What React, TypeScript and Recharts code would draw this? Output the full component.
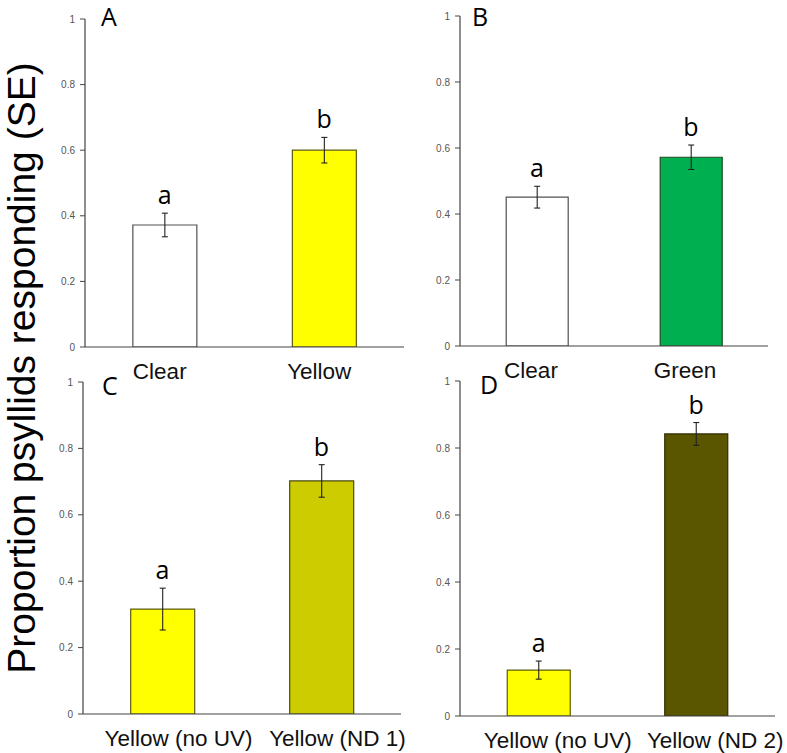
import React from 'react';
import { BarChart, Bar, XAxis, YAxis, ErrorBar, Cell, ReferenceDot } from 'recharts';

// ---- data ----
const categoriesA = ['Clear', 'Yellow'];
const valuesA = [0.372, 0.6];
const seA = [0.036, 0.039];
const lettersA = ['a', 'b'];

const categoriesB = ['Clear', 'Green'];
const valuesB = [0.451, 0.572];
const seB = [0.033, 0.037];
const lettersB = ['a', 'b'];

const categoriesC = ['Yellow (no UV)', 'Yellow (ND 1)'];
const valuesC = [0.316, 0.702];
const seC = [0.063, 0.049];
const lettersC = ['a', 'b'];

const categoriesD = ['Yellow (no UV)', 'Yellow (ND 2)'];
const valuesD = [0.137, 0.842];
const seD = [0.027, 0.034];
const lettersD = ['a', 'b'];

const yTicks = [0, 0.2, 0.4, 0.6, 0.8, 1];
const panelLetters = ['A', 'B', 'C', 'D'];
const yTitle = 'Proportion psyllids responding (SE)';

// ---- styles ----
const fillsA = ['#FFFFFF', '#FFFF00'];
const fillsB = ['#FFFFFF', '#00B050'];
const fillsC = ['#FFFF00', '#CCCC00'];
const fillsD = ['#FFFF00', '#5A5600'];
const strokesA = ['#505050', '#5c5c10'];
const strokesB = ['#505050', '#204a20'];
const strokesC = ['#5c5c10', '#4a4a10'];
const strokesD = ['#5c5c10', '#2e2c00'];

const SANS = '"Liberation Sans", Arial, sans-serif';
const LETTER_FONT = '"Open Sans", "Noto Sans", sans-serif';

const Y_W = 40;
const M_TOP = 12;
const M_RIGHT = 40;
const X_H = 45;

type PanelProps = {
  categories: string[];
  values: number[];
  se: number[];
  letters: string[];
  fills: string[];
  strokes: string[];
  axisX: number;
  topY: number;
  zeroY: number;
  rightX: number;
  dx: number;
};

function Panel(p: PanelProps) {
  const data = p.categories.map((c, i) => ({ name: c, value: p.values[i], se: p.se[i] }));
  const plotH = p.zeroY - p.topY;
  const plotW = p.rightX - p.axisX;
  const width = Y_W + plotW + M_RIGHT;
  const height = M_TOP + plotH + X_H;
  const CatTick = (props: any) => {
    const { x, y, payload } = props;
    return (
      <text x={x + p.dx} y={y + 32} textAnchor="middle" fontSize={22.5} fontFamily={SANS} fill="#111">
        {payload.value}
      </text>
    );
  };
  return (
    <div style={{ position: 'absolute', left: p.axisX - Y_W, top: p.topY - M_TOP }}>
      <BarChart
        width={width}
        height={height}
        data={data}
        margin={{ top: M_TOP, right: M_RIGHT, left: 0, bottom: 0 }}
        barCategoryGap="30%"
      >
        <XAxis
          dataKey="name"
          height={X_H}
          tickLine={false}
          tickSize={0}
          tickMargin={0}
          axisLine={{ stroke: '#444', strokeWidth: 1.2 }}
          tick={<CatTick />}
          interval={0}
        />
        <YAxis
          width={Y_W}
          domain={[0, 1]}
          ticks={yTicks}
          tickSize={5}
          tickMargin={5}
          interval={0}
          allowDataOverflow
          tickFormatter={(v: number) => String(v)}
          axisLine={{ stroke: '#444', strokeWidth: 1.2 }}
          tickLine={{ stroke: '#444' }}
          tick={{ fill: '#555', fontSize: 10, fontFamily: SANS }}
        />
        <Bar dataKey="value" isAnimationActive={false} strokeWidth={1.2}>
          {data.map((d, i) => (
            <Cell key={d.name} fill={p.fills[i]} stroke={p.strokes[i]} />
          ))}
          <ErrorBar dataKey="se" width={3} stroke="#222" strokeWidth={1.1} isAnimationActive={false} />
        </Bar>
        {data.map((d, i) => (
          <ReferenceDot
            key={'l' + d.name}
            x={d.name}
            y={d.value + d.se}
            r={1}
            fill="none"
            stroke="none"
            label={{ value: p.letters[i], position: 'top', offset: 8, fontSize: 25, fill: '#000', fontFamily: LETTER_FONT }}
          />
        ))}
      </BarChart>
    </div>
  );
}

export default function App() {
  return (
    <div style={{ position: 'absolute', left: 0, top: 0, width: 787, height: 753, background: '#fff', overflow: 'hidden' }}>
      <Panel categories={categoriesA} values={valuesA} se={seA} letters={lettersA} fills={fillsA} strokes={strokesA}
        axisX={85} topY={19} zeroY={347} rightX={404} dx={-5} />
      <Panel categories={categoriesB} values={valuesB} se={seB} letters={lettersB} fills={fillsB} strokes={strokesB}
        axisX={460} topY={16} zeroY={346} rightX={768} dx={-6} />
      <Panel categories={categoriesC} values={valuesC} se={seC} letters={lettersC} fills={fillsC} strokes={strokesC}
        axisX={83} topY={382} zeroY={714} rightX={401} dx={16} />
      <Panel categories={categoriesD} values={valuesD} se={seD} letters={lettersD} fills={fillsD} strokes={strokesD}
        axisX={460} topY={381} zeroY={716} rightX={775} dx={19} />
      <svg width={787} height={753} style={{ position: 'absolute', left: 0, top: 0, pointerEvents: 'none' }}>
        <text x={101} y={26} fontSize={25} fontFamily={LETTER_FONT} fill="#000">{panelLetters[0]}</text>
        <text x={472} y={26} fontSize={25} fontFamily={LETTER_FONT} fill="#000">{panelLetters[1]}</text>
        <text x={102} y={395} fontSize={25} fontFamily={LETTER_FONT} fill="#000">{panelLetters[2]}</text>
        <text x={480} y={394} fontSize={25} fontFamily={LETTER_FONT} fill="#000">{panelLetters[3]}</text>
        <text
          x={0}
          y={0}
          transform="translate(35,368) rotate(-90)"
          textAnchor="middle"
          fontSize={39}
          fontFamily={SANS}
          fill="#000"
        >
          {yTitle}
        </text>
      </svg>
    </div>
  );
}
